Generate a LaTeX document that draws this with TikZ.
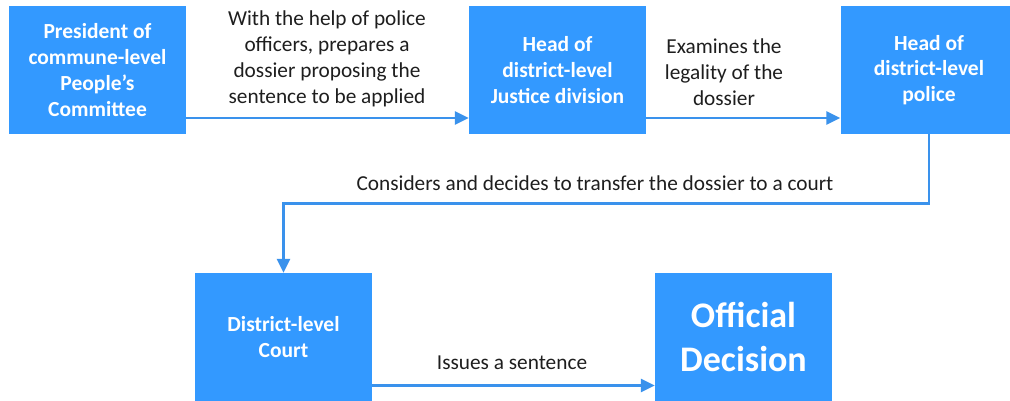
\documentclass[tikz,border=0pt]{standalone}
\usepackage{fontspec}
\setmainfont{Carlito}
\usetikzlibrary{arrows.meta,calc}
\definecolor{boxblue}{RGB}{51,153,255}
\definecolor{lineblue}{RGB}{58,146,236}
\definecolor{txt}{RGB}{30,30,30}
\tikzset{
  box/.style={rectangle,fill=boxblue,draw=none,minimum width=177pt,minimum height=128pt,
    inner sep=0pt,text=white,align=center,font=\fontsize{21.5}{25.7}\selectfont\bfseries},
  lbl/.style={text=txt,align=center,inner sep=0pt,font=\fontsize{21.3}{26}\selectfont},
  conn/.style={draw=lineblue,line width=2.5pt,-{Triangle[length=14pt,width=13pt]}}
}
\begin{document}
\begin{tikzpicture}[x=1pt,y=-1pt]
\useasboundingbox (0,0) rectangle (1010,400);
\node[box] (b1) at (97.5,70) {President of\\commune-level\\People’s\\Committee};
\node[box] (b2) at (557.5,70) {Head of\\district-level\\Justice division};
\node[box] (b3) at (929,70) {Head of\\district-level\\police};
\node[box] (b4) at (283.5,337) {District-level\\Court};
\node[box,font=\fontsize{36}{44}\selectfont\bfseries] (b5) at (743.5,337) {Official\\Decision};
\coordinate (ytop) at (0,118);
\coordinate (ymid) at (0,203.5);
\coordinate (ybot) at (0,385.5);
\draw[conn] (b1.east |- ytop) -- (b2.west |- ytop);
\draw[conn] (b2.east |- ytop) -- (b3.west |- ytop);
\draw[conn] (b3.south) -- (b3.south |- ymid) -| (b4.north);
\draw[conn] (b4.east |- ybot) -- (b5.west |- ybot);
\node[lbl] (l1) at (327,59) {With the help of police\\officers, prepares a\\dossier proposing the\\sentence to be applied};
\node[lbl] (l2) at (724,72) {Examines the\\legality of the\\dossier};
\node[lbl] (l3) at (595,183) {Considers and decides to transfer the dossier to a court};
\node[lbl] (l4) at (512,363) {Issues a sentence};
\end{tikzpicture}
\end{document}
